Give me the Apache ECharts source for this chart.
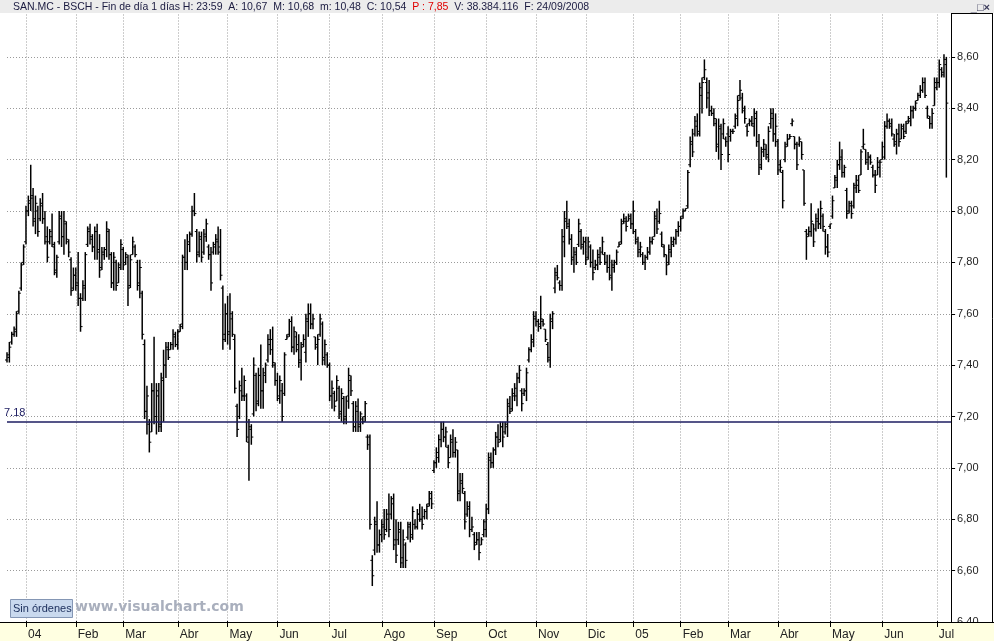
<!DOCTYPE html>
<html><head><meta charset="utf-8">
<script src="https://cdn.jsdelivr.net/npm/echarts@6/dist/echarts.min.js"></script>
<style>html,body{margin:0;padding:0;background:#fff;overflow:hidden}#c{width:994px;height:641px}</style>
</head><body><div id="c"></div><script>
// Daily bars [open, high, low, close] per month (SAN.MC)
const d2003_12 = [[7.42,7.45,7.41,7.44],[7.43,7.49,7.41,7.47],[7.49,7.53,7.48,7.52],[7.52,7.55,7.51,7.54],[7.53,7.61,7.51,7.60],[7.61,7.69,7.60,7.68],[7.70,7.80,7.69,7.79],[7.80,7.87,7.79,7.86]];
const d2004_01 = [[7.88,8.02,7.87,8.00],[8.00,8.06,7.98,8.03],[8.04,8.18,8.00,8.05],[8.06,8.09,7.94,7.96],[7.97,8.06,7.91,8.03],
[8.00,8.02,7.90,7.92],[7.97,8.05,7.96,8.03],[8.02,8.07,7.95,7.97],[7.97,8.00,7.87,7.88],[7.90,7.94,7.80,7.82],
[7.88,7.93,7.87,7.92],[7.90,7.99,7.86,7.87],[7.86,7.88,7.75,7.76],[7.77,7.83,7.74,7.82],[7.88,8.00,7.87,7.98],
[7.97,8.00,7.86,7.90],[7.90,8.00,7.83,7.96],[7.95,7.96,7.87,7.89],[7.88,7.89,7.82,7.84],[7.81,7.82,7.67,7.69],
[7.70,7.78,7.69,7.75]];
const d2004_02 = [[7.75,7.78,7.69,7.71],[7.72,7.84,7.63,7.66],[7.66,7.68,7.53,7.55],[7.66,7.73,7.65,7.71],[7.70,7.84,7.65,7.83],
[7.87,7.94,7.86,7.93],[7.92,7.95,7.87,7.90],[7.89,7.91,7.84,7.86],[7.86,7.94,7.81,7.92],[7.92,7.95,7.81,7.84],
[7.85,7.91,7.74,7.77],[7.78,7.86,7.77,7.84],[7.83,7.86,7.81,7.85],[7.85,7.96,7.82,7.93],[7.92,7.93,7.81,7.83],
[7.83,7.84,7.70,7.72],[7.72,7.84,7.69,7.82],[7.80,7.81,7.69,7.71],[7.72,7.80,7.72,7.78],[7.79,7.89,7.77,7.87]];
const d2004_03 = [[7.85,7.86,7.77,7.79],[7.80,7.84,7.79,7.83],[7.82,7.83,7.63,7.70],[7.71,7.83,7.70,7.81],[7.83,7.90,7.83,7.88],
[7.86,7.87,7.82,7.83],[7.80,7.81,7.69,7.71],[7.72,7.81,7.66,7.78],[7.68,7.69,7.50,7.52],[7.48,7.50,7.19,7.22],
[7.22,7.32,7.13,7.28],[7.17,7.19,7.06,7.10],[7.14,7.33,7.14,7.30],[7.30,7.51,7.17,7.20],[7.20,7.33,7.13,7.30],
[7.28,7.33,7.14,7.16],[7.17,7.37,7.14,7.35],[7.34,7.46,7.18,7.40],[7.40,7.49,7.35,7.47],[7.46,7.49,7.42,7.43],
[7.46,7.49,7.46,7.48],[7.48,7.54,7.46,7.52],[7.51,7.53,7.47,7.48]];
const d2004_04 = [[7.48,7.54,7.46,7.53],[7.53,7.56,7.53,7.55],[7.56,7.83,7.54,7.82],[7.82,7.89,7.77,7.80],[7.80,7.91,7.77,7.88],
[7.87,7.92,7.84,7.91],[7.91,8.02,7.90,8.00],[8.00,8.07,7.98,7.99],[7.92,7.93,7.80,7.83],[7.84,7.92,7.82,7.90],
[7.89,7.92,7.80,7.82],[7.84,7.93,7.83,7.91],[7.90,7.97,7.88,7.95],[7.86,7.87,7.81,7.83],[7.83,7.86,7.69,7.72],
[7.84,7.88,7.83,7.87],[7.86,7.91,7.83,7.89],[7.88,7.94,7.83,7.84],[7.86,7.93,7.73,7.75],[7.70,7.71,7.46,7.50],
[7.52,7.64,7.49,7.60]];
const d2004_05 = [[7.60,7.67,7.48,7.52],[7.53,7.68,7.46,7.60],[7.58,7.61,7.51,7.52],[7.50,7.52,7.29,7.31],[7.24,7.25,7.12,7.15],
[7.20,7.34,7.19,7.32],[7.30,7.39,7.26,7.28],[7.28,7.36,7.26,7.34],[7.28,7.29,7.10,7.12],[7.10,7.19,6.95,7.16],
[7.15,7.17,7.09,7.12],[7.21,7.43,7.20,7.40],[7.36,7.37,7.22,7.25],[7.26,7.39,7.24,7.36],[7.36,7.48,7.23,7.30],
[7.30,7.39,7.23,7.37],[7.36,7.41,7.33,7.40],[7.42,7.52,7.41,7.50],[7.48,7.54,7.44,7.46],[7.50,7.55,7.39,7.41],
[7.40,7.41,7.32,7.34]];
const d2004_06 = [[7.34,7.37,7.26,7.28],[7.27,7.36,7.25,7.34],[7.30,7.33,7.18,7.20],[7.29,7.45,7.28,7.44],[7.50,7.52,7.50,7.51],
[7.52,7.58,7.51,7.57],[7.57,7.59,7.45,7.47],[7.47,7.55,7.44,7.53],[7.51,7.53,7.45,7.46],[7.48,7.52,7.39,7.41],
[7.42,7.49,7.34,7.47],[7.48,7.52,7.47,7.50],[7.45,7.60,7.41,7.58],[7.57,7.64,7.51,7.60],[7.60,7.64,7.54,7.56],
[7.56,7.60,7.54,7.58],[7.51,7.51,7.46,7.47],[7.48,7.52,7.40,7.50],[7.52,7.60,7.51,7.58],[7.56,7.57,7.40,7.42],
[7.43,7.50,7.40,7.48],[7.44,7.45,7.39,7.40]];
const d2004_07 = [[7.40,7.41,7.26,7.28],[7.28,7.34,7.23,7.31],[7.29,7.30,7.22,7.24],[7.26,7.36,7.26,7.34],[7.31,7.32,7.19,7.21],
[7.22,7.31,7.18,7.29],[7.27,7.28,7.17,7.19],[7.20,7.28,7.17,7.26],[7.28,7.39,7.23,7.36],[7.34,7.36,7.28,7.30],
[7.25,7.26,7.14,7.16],[7.16,7.26,7.14,7.24],[7.22,7.27,7.14,7.16],[7.17,7.22,7.14,7.21],[7.19,7.20,7.17,7.18],
[7.20,7.26,7.18,7.25],[7.12,7.13,7.07,7.09],[7.12,7.13,6.76,6.78],[6.64,6.66,6.54,6.58],[6.68,6.81,6.66,6.79],
[6.78,6.87,6.67,6.70],[6.70,6.76,6.67,6.74]];
const d2004_08 = [[6.74,6.80,6.71,6.78],[6.77,6.84,6.72,6.74],[6.76,6.84,6.75,6.82],[6.80,6.90,6.73,6.76],[6.82,6.89,6.80,6.86],
[6.88,6.90,6.68,6.70],[6.72,6.80,6.63,6.66],[6.72,6.79,6.70,6.75],[6.76,6.79,6.61,6.63],[6.65,6.76,6.61,6.72],
[6.70,6.71,6.61,6.64],[6.73,6.79,6.72,6.77],[6.78,6.79,6.71,6.73],[6.74,6.85,6.72,6.83],[6.78,6.80,6.76,6.77],
[6.77,6.84,6.76,6.82],[6.82,6.86,6.79,6.80],[6.80,6.85,6.76,6.78],[6.81,6.84,6.80,6.83],[6.83,6.86,6.80,6.85],
[6.86,6.91,6.85,6.90],[6.88,6.91,6.84,6.86]];
const d2004_09 = [[6.99,7.03,6.98,7.02],[7.02,7.08,7.00,7.06],[7.04,7.13,7.02,7.11],[7.11,7.18,7.08,7.15],[7.15,7.18,7.10,7.12],
[7.12,7.16,7.08,7.14],[7.08,7.09,7.00,7.02],[7.04,7.13,7.04,7.11],[7.10,7.15,7.04,7.06],[7.06,7.12,7.04,7.10],
[7.07,7.07,6.87,6.90],[6.91,6.98,6.87,6.95],[6.94,6.98,6.90,6.92],[6.90,6.91,6.76,6.79],[6.82,6.87,6.81,6.84],
[6.85,6.87,6.73,6.76],[6.76,6.81,6.75,6.77],[6.74,6.75,6.68,6.70],[6.71,6.75,6.70,6.72],[6.72,6.75,6.64,6.67],
[6.70,6.73,6.70,6.72],[6.74,6.80,6.73,6.79]];
const d2004_10 = [[6.76,6.86,6.73,6.84],[6.84,7.06,6.82,7.04],[7.03,7.06,7.00,7.02],[7.02,7.08,7.00,7.07],[7.07,7.14,7.05,7.12],
[7.12,7.17,7.08,7.10],[7.11,7.18,7.10,7.16],[7.16,7.18,7.08,7.12],[7.14,7.18,7.13,7.17],[7.16,7.27,7.12,7.25],
[7.24,7.28,7.21,7.22],[7.23,7.31,7.22,7.29],[7.28,7.33,7.26,7.31],[7.28,7.37,7.24,7.35],[7.35,7.40,7.33,7.38],
[7.30,7.31,7.22,7.25],[7.29,7.31,7.28,7.30],[7.30,7.39,7.26,7.37],[7.42,7.47,7.41,7.46],[7.46,7.52,7.45,7.50],
[7.49,7.61,7.47,7.59]];
const d2004_11 = [[7.58,7.61,7.55,7.57],[7.57,7.58,7.53,7.55],[7.56,7.67,7.54,7.58],[7.57,7.58,7.55,7.56],[7.54,7.54,7.49,7.50],
[7.48,7.49,7.41,7.43],[7.42,7.60,7.39,7.58],[7.57,7.61,7.54,7.60],[7.70,7.78,7.68,7.76],[7.75,7.79,7.73,7.74],
[7.72,7.73,7.69,7.71],[7.71,7.93,7.69,7.90],[7.88,8.00,7.82,7.97],[7.96,8.04,7.93,7.95],[7.94,7.97,7.87,7.89],
[7.89,7.91,7.79,7.81],[7.82,7.86,7.76,7.84],[7.83,7.86,7.79,7.80],[7.87,7.97,7.86,7.95],[7.92,7.93,7.85,7.87],
[7.86,7.90,7.83,7.88]];
const d2004_12 = [[7.88,7.90,7.79,7.81],[7.82,7.90,7.81,7.88],[7.86,7.87,7.78,7.80],[7.80,7.85,7.73,7.76],[7.78,7.81,7.77,7.79],
[7.79,7.85,7.77,7.83],[7.82,7.86,7.79,7.80],[7.84,7.90,7.83,7.88],[7.83,7.84,7.79,7.80],[7.80,7.83,7.76,7.78],
[7.78,7.83,7.73,7.75],[7.74,7.81,7.69,7.79],[7.78,7.81,7.76,7.80],[7.80,7.85,7.79,7.84],[7.86,7.88,7.86,7.87],
[7.88,7.97,7.87,7.95],[7.96,7.99,7.95,7.97],[7.96,7.98,7.92,7.94],[7.96,7.99,7.96,7.98],[7.97,7.99,7.93,7.95]];
const d2005_01 = [[7.95,8.04,7.91,8.00],[7.92,7.93,7.87,7.89],[7.88,7.90,7.82,7.84],[7.85,7.88,7.82,7.86],[7.83,7.84,7.79,7.80],
[7.80,7.83,7.77,7.82],[7.82,7.86,7.81,7.84],[7.84,7.90,7.83,7.88],[7.88,7.90,7.87,7.89],[7.90,8.00,7.90,7.98],
[7.97,8.01,7.91,7.93],[7.96,8.04,7.95,7.99],[7.91,7.92,7.86,7.87],[7.86,7.87,7.82,7.83],[7.83,7.83,7.75,7.79],
[7.80,7.87,7.79,7.85],[7.84,7.90,7.82,7.88],[7.87,7.90,7.86,7.89],[7.89,7.93,7.87,7.92],[7.92,7.96,7.90,7.94]];
const d2005_02 = [[7.94,7.98,7.92,7.97],[7.98,8.01,7.97,8.00],[8.00,8.01,8.00,8.01],[8.02,8.16,8.01,8.15],[8.18,8.29,8.17,8.27],
[8.26,8.32,8.21,8.23],[8.30,8.37,8.29,8.35],[8.33,8.38,8.29,8.31],[8.30,8.50,8.29,8.48],[8.45,8.52,8.38,8.50],
[8.52,8.59,8.51,8.55],[8.50,8.52,8.40,8.44],[8.46,8.51,8.37,8.39],[8.39,8.41,8.37,8.38],[8.38,8.40,8.33,8.36],
[8.34,8.36,8.23,8.25],[8.26,8.36,8.20,8.33],[8.32,8.34,8.16,8.22],[8.30,8.36,8.28,8.34],[8.28,8.29,8.25,8.27]];
const d2005_03 = [[8.30,8.33,8.19,8.22],[8.29,8.32,8.27,8.31],[8.31,8.32,8.30,8.31],[8.33,8.38,8.32,8.37],[8.36,8.45,8.33,8.43],
[8.45,8.51,8.43,8.47],[8.44,8.46,8.38,8.40],[8.39,8.41,8.34,8.36],[8.33,8.34,8.29,8.31],[8.34,8.36,8.33,8.35],
[8.35,8.37,8.33,8.34],[8.33,8.40,8.29,8.38],[8.36,8.39,8.25,8.27],[8.27,8.30,8.14,8.17],[8.18,8.25,8.16,8.23],
[8.24,8.28,8.21,8.26],[8.24,8.26,8.20,8.22],[8.21,8.33,8.19,8.31],[8.34,8.40,8.32,8.38],[8.36,8.40,8.27,8.30],
[8.30,8.38,8.25,8.33]];
const d2005_04 = [[8.27,8.28,8.14,8.16],[8.18,8.20,8.15,8.17],[8.15,8.16,8.01,8.04],[8.20,8.27,8.19,8.25],[8.26,8.30,8.25,8.28],
[8.28,8.30,8.28,8.29],[8.34,8.36,8.33,8.35],[8.29,8.29,8.24,8.26],[8.26,8.27,8.16,8.18],[8.26,8.29,8.25,8.28],
[8.27,8.27,8.20,8.22],[8.16,8.16,8.02,8.03],[7.92,7.93,7.81,7.90],[7.91,7.94,7.90,7.92],[7.92,8.03,7.90,7.96],
[7.95,7.95,7.86,7.88],[7.93,7.99,7.92,7.97],[7.96,8.01,7.93,7.95],[7.95,8.04,7.93,8.01],[7.98,7.99,7.92,7.94],
[7.92,7.93,7.83,7.86],[7.86,7.91,7.82,7.84]];
const d2005_05 = [[7.94,7.95,7.93,7.95],[7.98,8.06,7.97,8.04],[8.09,8.14,8.09,8.13],[8.12,8.20,8.09,8.18],[8.18,8.27,8.16,8.20],
[8.21,8.24,8.13,8.15],[8.15,8.18,8.13,8.17],[8.08,8.09,7.97,7.99],[8.00,8.04,7.99,8.03],[8.02,8.04,7.97,7.99],
[8.02,8.11,8.01,8.10],[8.09,8.14,8.07,8.12],[8.10,8.14,8.07,8.08],[8.14,8.24,8.14,8.23],[8.25,8.32,8.24,8.26],
[8.24,8.24,8.18,8.19],[8.20,8.23,8.16,8.21],[8.21,8.22,8.18,8.19],[8.17,8.18,8.13,8.14],[8.14,8.16,8.07,8.10],
[8.14,8.21,8.14,8.19],[8.17,8.20,8.13,8.19]];
const d2005_06 = [[8.20,8.27,8.20,8.25],[8.21,8.35,8.20,8.33],[8.33,8.38,8.32,8.35],[8.35,8.36,8.32,8.33],[8.34,8.36,8.29,8.30],
[8.28,8.30,8.25,8.26],[8.27,8.32,8.22,8.30],[8.30,8.34,8.25,8.27],[8.28,8.34,8.28,8.33],[8.32,8.34,8.28,8.29],
[8.31,8.35,8.30,8.34],[8.35,8.37,8.34,8.36],[8.35,8.41,8.33,8.39],[8.39,8.41,8.36,8.40],[8.40,8.43,8.39,8.42],
[8.43,8.46,8.43,8.45],[8.45,8.49,8.44,8.47],[8.47,8.52,8.46,8.50],[8.50,8.52,8.44,8.45],[8.40,8.41,8.36,8.37],
[8.36,8.37,8.32,8.34],[8.34,8.40,8.32,8.38],[8.41,8.52,8.41,8.50]];
const d2005_07 = [[8.48,8.52,8.47,8.50],[8.50,8.59,8.48,8.57],[8.55,8.56,8.52,8.53],[8.54,8.61,8.52,8.59],[8.57,8.60,8.13,8.42]];

// Month labels shown on the time axis (first month is cut off at the left edge)
const monthLabels = ['', '04', 'Feb', 'Mar', 'Abr', 'May', 'Jun', 'Jul', 'Ago', 'Sep', 'Oct', 'Nov', 'Dic', '05', 'Feb', 'Mar', 'Abr', 'May', 'Jun', 'Jul'];
const monthBars = [d2003_12, d2004_01, d2004_02, d2004_03, d2004_04, d2004_05, d2004_06, d2004_07, d2004_08, d2004_09, d2004_10, d2004_11, d2004_12, d2005_01, d2005_02, d2005_03, d2005_04, d2005_05, d2005_06, d2005_07];
const supportLevel = 7.18;
const yMin = 6.4, yMax = 8.8, yStep = 0.2;
const titleText = 'SAN.MC - BSCH - Fin de día 1 días H: 23:59  A: 10,67  M: 10,68  m: 10,48  C: 10,54  ';
const titleRed = 'P : 7,85';
const titleTail = '  V: 38.384.116  F: 24/09/2008';

const categories = [], rows = [];
monthBars.forEach((bars, mi) => bars.forEach((b, di) => {
  categories.push(monthLabels[mi] + '|' + mi + '|' + di);
  rows.push([rows.length, b[0], b[1], b[2], b[3]]);
}));
categories.push('|pad|1', '|pad|2');
const isMonthStart = (i, v) => { const p = String(v).split('|'); return p[0] !== '' && p[2] === '0'; };

function renderItem(params, api) {
  const i = api.value(0);
  const hi = api.coord([i, api.value(2)]);
  const lo = api.coord([i, api.value(3)]);
  const oy = api.coord([i, api.value(1)])[1];
  const cy = api.coord([i, api.value(4)])[1];
  const x = hi[0];
  return {type: 'group', children: [
    {type: 'line', shape: {x1: x, y1: hi[1], x2: x, y2: lo[1]}, style: {stroke: '#000', lineWidth: 1.5}},
    {type: 'line', shape: {x1: x - 2, y1: oy, x2: x, y2: oy}, style: {stroke: '#000', lineWidth: 1}},
    {type: 'line', shape: {x1: x, y1: cy, x2: x + 2, y2: cy}, style: {stroke: '#000', lineWidth: 1}}
  ]};
}

const FONT = '"Liberation Sans", Arial, sans-serif';
const chart = echarts.init(document.getElementById('c'), null, {renderer: 'canvas'});
chart.setOption({
  animation: false,
  backgroundColor: '#ffffff',
  grid: {left: 7, right: 42.9, top: -2.7, bottom: 17.1},
  xAxis: {
    type: 'category', data: categories, boundaryGap: false, z: 3, offset: -1,
    axisLine: {show: false},
    axisTick: {show: true, interval: isMonthStart, length: 6, lineStyle: {color: '#000', width: 1}},
    axisLabel: {show: true, interval: isMonthStart, formatter: v => v.split('|')[0], align: 'left', padding: [0, 0, 0, 2], margin: 8, fontSize: 12, color: '#222', fontFamily: FONT},
    splitLine: {show: true, interval: isMonthStart, lineStyle: {color: '#9a9a9a', type: [1, 2], width: 1}}
  },
  yAxis: {
    type: 'value', position: 'right', min: yMin, max: yMax, interval: yStep, z: 0,
    axisLine: {show: true, lineStyle: {color: '#000', width: 1}},
    axisTick: {show: true, length: 4, lineStyle: {color: '#000'}},
    axisLabel: {formatter: v => v.toFixed(2).replace('.', ','), margin: 6, fontSize: 11, color: '#222', fontFamily: FONT},
    splitLine: {show: true, lineStyle: {color: '#9a9a9a', type: [1, 2], width: 1}}
  },
  series: [{
    type: 'custom', z: 4, data: rows, encode: {x: 0, y: [1, 2, 3, 4]}, renderItem: renderItem,
    markLine: {
      silent: true, symbol: 'none',
      lineStyle: {color: '#1c1c60', width: 1.5, type: 'solid'},
      label: {show: true, position: 'insideStartTop', formatter: String(supportLevel), color: '#1c1c60', fontSize: 11, fontFamily: FONT, distance: [-3, 3]},
      data: [{yAxis: supportLevel}]
    }
  }],
  graphic: [
    {type: 'line', z: 2, shape: {x1: 992.5, y1: 13.5, x2: 992.5, y2: 623}, style: {stroke: '#000', lineWidth: 1}},
    {type: 'line', z: 2, shape: {x1: 951, y1: 13.5, x2: 993, y2: 13.5}, style: {stroke: '#000', lineWidth: 1}},
    {type: 'rect', z: 1, shape: {x: 0, y: 622.5, width: 994, height: 19}, style: {fill: '#ffffe1'}},
    {type: 'line', z: 2, shape: {x1: 0, y1: 622.5, x2: 994, y2: 622.5}, style: {stroke: '#000', lineWidth: 1}},
    {type: 'rect', z: 10, shape: {x: 0, y: 0, width: 994, height: 13}, style: {fill: '#ececec'}},
    {type: 'text', z: 11, style: {x: 13, y: 7, text: '{a|' + titleText + '}{r|' + titleRed + '}{a|' + titleTail + '}', textVerticalAlign: 'middle', font: '10.5px ' + FONT,
      rich: {a: {fill: '#1a1a40', font: '10.5px ' + FONT}, r: {fill: '#e00000', font: '10.5px ' + FONT}}}},
    {type: 'text', z: 11, style: {x: 990, y: 8, text: '_□×', textAlign: 'right', textVerticalAlign: 'middle', font: 'bold 11px ' + FONT, fill: '#3a3a5a'}},
    {type: 'rect', z: 5, shape: {x: 10.5, y: 599.5, width: 62, height: 18}, style: {fill: '#c9d9ee', stroke: '#8496b4', lineWidth: 1}},
    {type: 'text', z: 6, style: {x: 13, y: 609, text: 'Sin órdenes', textVerticalAlign: 'middle', font: '11px ' + FONT, fill: '#1a2d5a'}},
    {type: 'text', z: 6, style: {x: 75, y: 607, text: 'www.visualchart.com', textVerticalAlign: 'middle', font: 'bold 14px "DejaVu Sans", sans-serif', fill: '#a9afbd'}}
  ]
});
</script></body></html>
